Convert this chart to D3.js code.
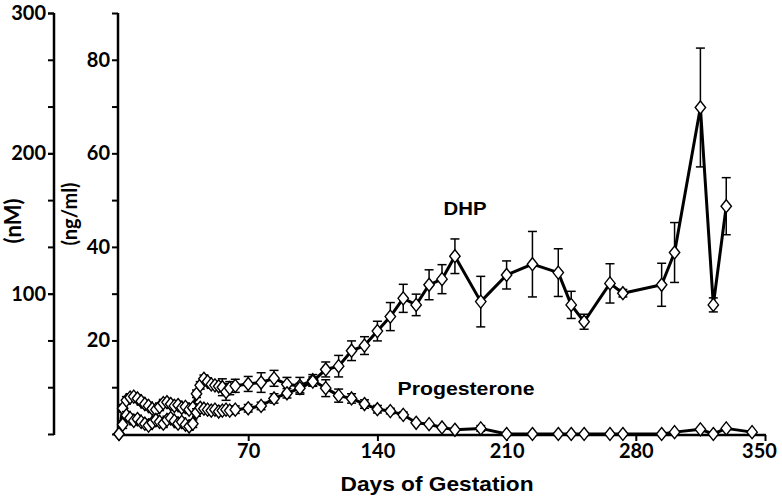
<!DOCTYPE html>
<meta charset="utf-8">
<script src="https://d3js.org/d3.v7.min.js"></script>
<style>
body { margin: 0; background: #fff; }
svg { display: block; }
.lab { font-family: Lato, "Open Sans", sans-serif; font-weight: 700; font-size: 20px; fill: #000; }
.ttl { font-family: "Liberation Sans", Arial, sans-serif; font-weight: 700; fill: #000; }
</style>
<body></body>
<script>

// sampling days (shared by both series)
var days = [0, 2, 4, 6, 8, 10, 12, 14, 16, 18, 20, 22, 24, 26, 28, 30, 32, 34, 36, 38, 40,
  42, 44, 46, 48, 50, 52, 54, 56, 58, 60, 63, 70, 77, 84, 91, 98, 105, 112, 119, 126, 133,
  140, 147, 154, 161, 168, 175, 182, 196, 210, 224, 238, 245, 252, 266, 273, 294, 301,
  315, 322, 329, 343];

// DHP, ng/ml (no sample on day 343)
var dhp = [0, 2.0, 4.0, 3.4, 2.8, 3.2, 2.6, 2.2, 1.8, 2.4, 3.0, 2.6, 2.2, 3.0, 3.4, 2.8, 2.2,
  2.6, 2.0, 1.6, 2.2, 4.6, 5.6, 5.4, 5.2, 5.0, 5.2, 4.8, 5.0, 5.2, 5.0, 5.2, 5.5, 6.0, 7.6,
  8.7, 9.8, 11.2, 13.8, 14.5, 17.8, 18.9, 22.0, 25.1, 29.0, 27.6, 31.9, 33.1, 38.0, 28.3,
  34.0, 36.3, 34.5, 27.6, 24.0, 32.2, 30.1, 31.9, 38.8, 69.8, 27.6, 48.7, null];
var dhpErr = [0, 0.8, 0.8, 0.8, 0.8, 0.8, 0.8, 0.8, 0.8, 0.8, 0.8, 0.8, 0.8, 0.8, 0.8, 0.8,
  0.8, 0.8, 0.8, 0.8, 0.8, 0.8, 0.8, 0.8, 0.8, 0.8, 0.8, 0.8, 0.8, 0.8, 0.8, 0.8, 0.8, 0.8,
  1.0, 1.0, 1.0, 1.0, 1.6, 2.3, 2.1, 1.9, 2.1, 3.0, 3.0, 2.3, 3.2, 3.1, 3.7, 5.4, 3.0, 7.0,
  5.1, 2.9, 1.6, 4.2, 0.8, 4.6, 6.4, 12.7, 1.5, 6.1, null];

// Progesterone, ng/ml
var prog = [0, 5.5, 7.2, 7.8, 8.0, 7.6, 7.0, 6.4, 6.0, 5.4, 5.2, 5.8, 6.6, 6.8, 6.4, 6.0,
  6.2, 5.6, 5.8, 5.2, 5.6, 8.6, 10.4, 11.8, 11.2, 10.6, 10.4, 10.2, 10.0, 9.0, 9.8, 10.3,
  10.7, 11.0, 11.9, 10.6, 10.3, 11.5, 9.8, 8.2, 7.6, 6.4, 5.3, 4.9, 4.1, 2.4, 2.1, 1.4,
  0.9, 1.2, 0, 0, 0, 0, 0, 0, 0, 0, 0.4, 1.0, 0, 1.2, 0.4];
var progErr = [0, 0.8, 0.8, 0.8, 0.8, 0.8, 0.8, 0.8, 0.8, 0.8, 0.8, 0.8, 0.8, 0.8, 0.8, 0.8,
  0.8, 0.8, 0.8, 0.8, 0.8, 0.8, 0.8, 0.8, 0.8, 0.8, 0.8, 0.8, 1.8, 1.8, 1.4, 1.4, 1.6, 2.1,
  1.7, 1.5, 1.8, 1.2, 1.8, 1.4, 1.0, 0.9, 0.8, 0.6, 0.6, 0.5, 0.5, 0.5, 0.5, 0.6, 0, 0, 0,
  0, 0, 0, 0, 0, 0.3, 0.5, 0, 0.5, 0.3];

var xTicks = [70, 140, 210, 280, 350];
var ngTicks = [20, 40, 60, 80];
var ngMinor = [0, 10, 20, 30, 40, 50, 60, 70, 80, 90];
var nmTicks = [100, 200, 300];

var width = 782, height = 501;
var svg = d3.select("body").append("svg").attr("width", width).attr("height", height);

var x = d3.scaleLinear().domain([0, 350]).range([119, 765]);
var y = d3.scaleLinear().domain([0, 90]).range([434, 13]);
var yNM = d3.scaleLinear().domain([0, 300]).range([434, 13]);

var axisX = 118, axisNM = 54;

function styleAxis(g) {
  g.select(".domain").remove();
  g.selectAll("line").attr("stroke", "#000").attr("stroke-width", 2);
  g.selectAll("text").attr("class", "lab");
}

// x axis
var gx = svg.append("g").attr("transform", "translate(0,435)")
  .call(d3.axisBottom(x).tickValues(xTicks).tickSize(6).tickPadding(3));
styleAxis(gx);
// last label sits a little left of its tick, as in the original
gx.selectAll(".tick text").filter(function(d) { return d === 350; }).attr("dx", -6);
svg.append("line").attr("x1", axisX - 1).attr("x2", x(350) + 1).attr("y1", 435).attr("y2", 435)
  .attr("stroke", "#000").attr("stroke-width", 2.5);

// ng/ml axis
var gy = svg.append("g").attr("transform", "translate(" + axisX + ",0)")
  .call(d3.axisLeft(y).tickValues(ngMinor).tickSize(6).tickPadding(2)
    .tickFormat(function(d) { return ngTicks.indexOf(d) >= 0 ? d : ""; }));
styleAxis(gy);
svg.append("line").attr("x1", axisX).attr("x2", axisX).attr("y1", y(90)).attr("y2", 435)
  .attr("stroke", "#000").attr("stroke-width", 2.5);

// nM axis (minor ticks shared with ng/ml)
var gn = svg.append("g").attr("transform", "translate(" + axisNM + ",0)")
  .call(d3.axisLeft(y).tickValues(ngMinor).tickSize(6).tickFormat(""));
styleAxis(gn);
var gn2 = svg.append("g").attr("transform", "translate(" + axisNM + ",0)")
  .call(d3.axisLeft(yNM).tickValues(nmTicks).tickSize(6).tickPadding(2));
styleAxis(gn2);
svg.append("line").attr("x1", axisNM).attr("x2", axisNM).attr("y1", y(90)).attr("y2", 435)
  .attr("stroke", "#000").attr("stroke-width", 2.5);

// axis titles
svg.append("text").attr("class", "lab").attr("text-anchor", "middle").style("font-size", "22px")
  .attr("transform", "translate(21,221) rotate(-90)").text("(nM)");
svg.append("text").attr("class", "lab").attr("text-anchor", "middle").style("font-size", "20px")
  .attr("transform", "translate(77,214) rotate(-90)").text("(ng/ml)");
svg.append("text").attr("class", "ttl").attr("text-anchor", "middle")
  .attr("x", 437).attr("y", 491).style("font-size", "21px")
  .attr("textLength", 193).attr("lengthAdjust", "spacingAndGlyphs").text("Days of Gestation");

// series
function series(vals, errs) {
  return days.map(function(d, i) { return {day: d, v: vals[i], e: errs[i]}; })
    .filter(function(p) { return p.v != null; });
}
var sets = [series(prog, progErr), series(dhp, dhpErr)];

var line = d3.line().x(function(d) { return x(d.day); }).y(function(d) { return y(d.v); });
var diamond = "M0,-6.5L5.2,0L0,6.5L-5.2,0Z";

sets.forEach(function(pts) {
  var g = svg.append("g");
  var eb = g.selectAll(".eb").data(pts.filter(function(p) { return p.e > 0.55; }))
    .enter().append("g").attr("class", "eb");
  eb.append("line").attr("x1", function(d) { return x(d.day); }).attr("x2", function(d) { return x(d.day); })
    .attr("y1", function(d) { return y(d.v + d.e); }).attr("y2", function(d) { return y(d.v - d.e); });
  eb.append("line").attr("x1", function(d) { return x(d.day) - 4.5; }).attr("x2", function(d) { return x(d.day) + 4.5; })
    .attr("y1", function(d) { return y(d.v + d.e); }).attr("y2", function(d) { return y(d.v + d.e); });
  eb.append("line").attr("x1", function(d) { return x(d.day) - 4.5; }).attr("x2", function(d) { return x(d.day) + 4.5; })
    .attr("y1", function(d) { return y(d.v - d.e); }).attr("y2", function(d) { return y(d.v - d.e); });
  eb.selectAll("line").attr("stroke", "#000").attr("stroke-width", 1.5);

  g.append("path").datum(pts).attr("d", line).attr("fill", "none")
    .attr("stroke", "#000").attr("stroke-width", 3).attr("stroke-linejoin", "round");

  g.selectAll(".mk").data(pts).enter().append("path").attr("class", "mk")
    .attr("d", diamond)
    .attr("transform", function(d) { return "translate(" + x(d.day) + "," + y(d.v) + ")"; })
    .attr("fill", "#fff").attr("stroke", "#000").attr("stroke-width", 1.4);
});

// series labels
svg.append("text").attr("class", "ttl").attr("text-anchor", "middle")
  .attr("x", 465).attr("y", 215).style("font-size", "19px")
  .attr("textLength", 43).attr("lengthAdjust", "spacingAndGlyphs").text("DHP");
svg.append("text").attr("class", "ttl").attr("text-anchor", "middle")
  .attr("x", 466).attr("y", 395).style("font-size", "19px")
  .attr("textLength", 137).attr("lengthAdjust", "spacingAndGlyphs").text("Progesterone");

</script>
